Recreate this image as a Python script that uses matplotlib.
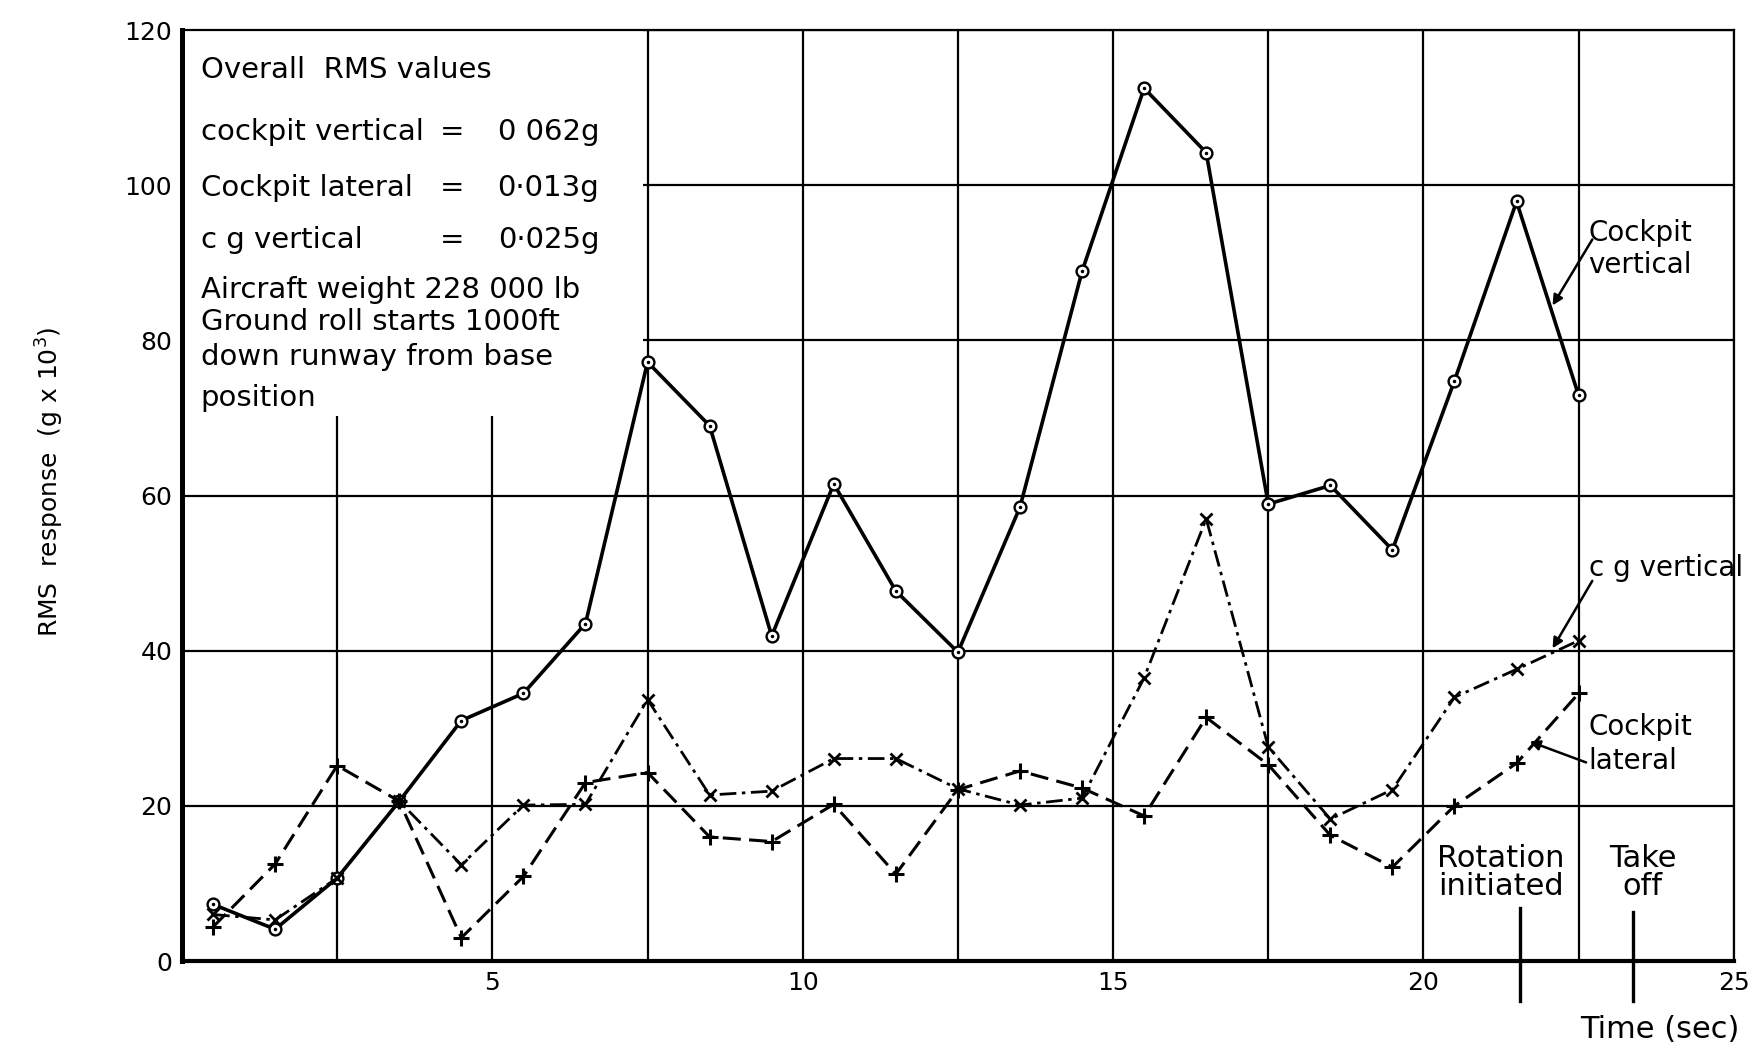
import matplotlib
matplotlib.use("Agg")
import matplotlib.pyplot as plt
from matplotlib.patches import Rectangle

plt.rcParams['font.family'] = ['DejaVu Sans']
plt.rcParams['lines.scale_dashes'] = False

# ---- data ----
time_s = [0.5, 1.5, 2.5, 3.5, 4.5, 5.5, 6.5, 7.5, 8.5, 9.5, 10.5, 11.5,
          12.5, 13.5, 14.5, 15.5, 16.5, 17.5, 18.5, 19.5, 20.5, 21.5, 22.5]
cockpit_vertical = [7.3, 4.1, 10.7, 20.6, 31.0, 34.5, 43.5, 77.2, 69.0, 41.9, 61.5, 47.7,
                    39.8, 58.5, 88.9, 112.5, 104.2, 58.9, 61.3, 53.0, 74.8, 97.9, 72.9]
cockpit_lateral = [4.4, 12.5, 25.2, 20.6, 3.0, 10.9, 23.0, 24.3, 16.0, 15.4, 20.2, 11.2,
                   22.1, 24.5, 22.3, 18.7, 31.4, 25.3, 16.2, 12.1, 20.0, 25.5, 34.5]
cg_vertical = [6.0, 5.3, 10.7, 20.6, 12.4, 20.1, 20.2, 33.7, 21.4, 21.9, 26.1, 26.1,
               22.2, 20.1, 21.0, 36.5, 57.0, 27.6, 18.3, 22.1, 34.0, 37.6, 41.3]

x_ticks = [5, 10, 15, 20, 25]
x_tick_labels = ['5', '10', '15', '20', '25']
y_ticks = [0, 20, 40, 60, 80, 100, 120]
y_tick_labels = ['0', '20', '40', '60', '80', '100', '120']
x_grid = [2.5, 5, 7.5, 10, 12.5, 15, 17.5, 20, 22.5]

rotation_time = 21.55
takeoff_time = 23.37

info_lines = [("Overall  RMS values", None, None),
              ("cockpit vertical", "=", "0 062g"),
              ("Cockpit lateral", "=", "0\u00b7013g"),
              ("c g vertical", "=", "0\u00b7025g"),
              ("Aircraft weight 228 000 lb", None, None),
              ("Ground roll starts 1000ft", None, None),
              ("down runway from base", None, None),
              ("position", None, None)]
info_y = [114.8, 106.8, 99.6, 93.0, 86.5, 82.4, 77.8, 72.6]

FS = 21

# ---- figure ----
fig = plt.figure(figsize=(17.62, 10.54), dpi=100)
ax = fig.add_axes([0.1033, 0.0882, 0.8807, 0.8833])
ax.set_xlim(0, 25)
ax.set_ylim(0, 120)

ax.set_xticks(x_ticks)
ax.set_xticklabels(x_tick_labels)
ax.set_xticks(x_grid, minor=True)
ax.set_yticks(y_ticks)
ax.set_yticklabels(y_tick_labels)
ax.tick_params(which='both', length=0, labelsize=18, pad=7)
ax.set_axisbelow(True)
ax.grid(True, which='both', color='black', linewidth=1.6)

for side, lw in (('left', 3.6), ('bottom', 3.0), ('top', 1.6), ('right', 1.6)):
    ax.spines[side].set_linewidth(lw)

# white area for the info text block (hides grid)
ax.add_patch(Rectangle((0, 70.3), 7.42, 49.7, facecolor='white',
                       edgecolor='none', zorder=1.2))

# series
ax.plot(time_s, cockpit_vertical, color='black', lw=2.6, marker='o', ms=8.5,
        mfc='white', mec='black', mew=1.7, zorder=3)
ax.plot(time_s, cockpit_vertical, ls='none', marker='.', ms=3, color='black', zorder=4)
ax.plot(time_s, cockpit_lateral, color='black', lw=2.2, dashes=(13, 6),
        marker='+', ms=11, mew=2.2, zorder=3)
ax.plot(time_s, cg_vertical, color='black', lw=2.0, dashes=(12, 4, 2.5, 4),
        marker='x', ms=8, mew=2.0, zorder=3)

# info text
for (lab, eq, val), yy in zip(info_lines, info_y):
    ax.text(0.3, yy, lab, fontsize=FS, va='center', ha='left', zorder=5)
    if eq:
        ax.text(4.35, yy, eq, fontsize=FS, va='center', ha='center', zorder=5)
        ax.text(6.72, yy, val, fontsize=FS, va='center', ha='right', zorder=5)

# curve annotations
arrow = dict(arrowstyle='-|>', color='black', lw=1.8, mutation_scale=15,
             shrinkA=0, shrinkB=0)
ax.text(22.66, 91.8, "Cockpit\nvertical", fontsize=20, ha='left', va='center',
        linespacing=1.2, zorder=5)
ax.annotate("", xy=(22.08, 84.5), xytext=(22.72, 93.0), arrowprops=arrow, zorder=5)
ax.text(22.66, 50.6, "c g vertical", fontsize=20, ha='left', va='center', zorder=5)
ax.annotate("", xy=(22.08, 40.3), xytext=(22.72, 49.0), arrowprops=arrow, zorder=5)
ax.text(22.66, 28.0, "Cockpit\nlateral", fontsize=20, ha='left', va='center',
        linespacing=1.25, zorder=5)
ax.annotate("", xy=(21.71, 28.3), xytext=(22.62, 25.6), arrowprops=arrow, zorder=5)

# events
ax.text(21.25, 11.4, "Rotation\ninitiated", fontsize=22, ha='center', va='center',
        linespacing=0.95, zorder=5)
ax.text(23.53, 11.4, "Take\noff", fontsize=22, ha='center', va='center',
        linespacing=0.95, zorder=5)
ax.plot([rotation_time, rotation_time], [6.8, -5.1], color='black', lw=2.4,
        clip_on=False, zorder=5)
ax.plot([takeoff_time, takeoff_time], [6.3, -5.2], color='black', lw=2.4,
        clip_on=False, zorder=5)

ax.text(23.8, -8.8, "Time (sec)", fontsize=22, ha='center', va='center')
ax.set_ylabel("RMS  response  (g x 10$^3$)", fontsize=18)
ax.yaxis.set_label_coords(-0.075, 0.515)

fig.savefig("out.png", dpi=100)
